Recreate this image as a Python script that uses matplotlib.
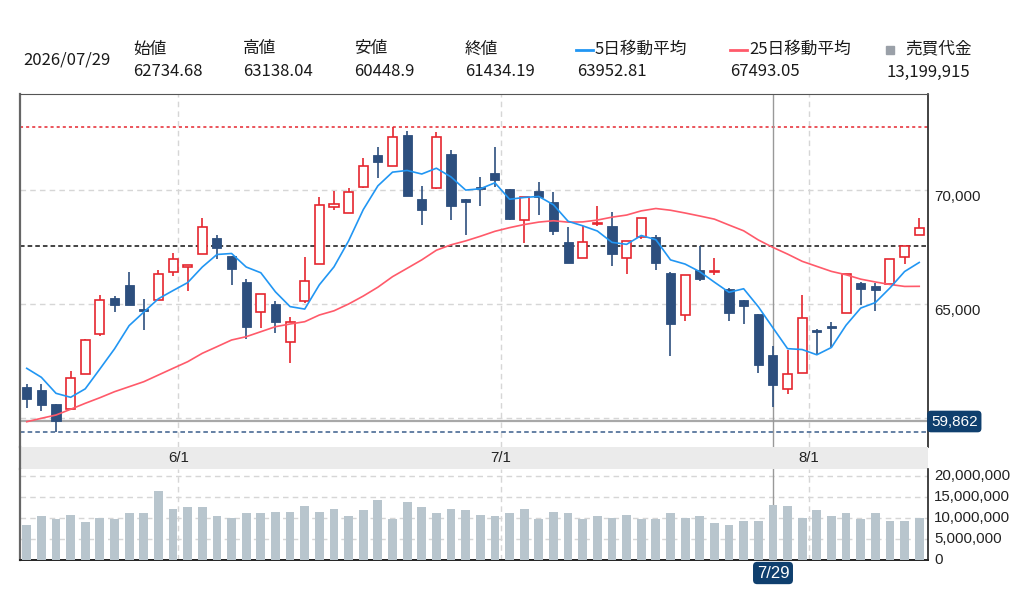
import numpy as np
import pandas as pd
import matplotlib
matplotlib.use("Agg")
import matplotlib.pyplot as plt
from matplotlib.lines import Line2D
from matplotlib.patches import Rectangle

# business days shown (7/20 is a holiday)
dates = pd.bdate_range("2026-05-18", "2026-08-12")
dates = dates[dates != pd.Timestamp("2026-07-20")]

opens = [61331, 61212, 60582, 60375, 61903, 63692, 65251, 65837, 64793, 65163,
         66396, 66643, 67216, 67894, 67114, 65969, 64648, 65013, 63313, 65132,
         66775, 69260, 69022, 70167, 71563, 71066, 72444, 69625, 70097, 71608,
         69612, 70141, 70784, 70066, 68700, 69978, 69506, 67744, 67040, 68511,
         68449, 67040, 67965, 67938, 66352, 64529, 66485, 66410, 65648, 65176,
         64546, 62734.68, 61243, 61947, 63855, 64031, 64590, 65912, 65793, 65894,
         67057, 68040]
highs = [61476, 61476, 60600, 62049, 63471, 65396, 65352, 66423, 65207, 66485,
         67260, 66718, 68788, 68026, 67114, 66088, 65454, 65132, 64414, 67070,
         69700, 69991, 70123, 71431, 71929, 72810, 72634, 70198, 72563, 71784,
         69612, 70608, 71929, 70066, 69727, 70387, 69947, 68405, 68436, 69330,
         69053, 67788, 68775, 68040, 66410, 66278, 67555, 67013, 65692, 65176,
         64546, 63138.04, 62974, 65396, 63899, 64220, 66335, 65982, 65938, 66982,
         67555, 68775]
lows = [60406, 60287, 59348, 60350, 61903, 63604, 64634, 64969, 63855, 65163,
        66247, 65586, 67216, 66969, 65850, 63445, 63930, 63736, 62388, 65057,
        66775, 69141, 69022, 70097, 70537, 71066, 69771, 68480, 70053, 68700,
        68040, 69330, 70167, 68700, 67674, 68920, 68040, 66819, 67040, 68436,
        66687, 66308, 67850, 66498, 62709, 64251, 66000, 66264, 64251, 64119,
        61947, 60448.9, 61035, 61947, 62754, 63119, 64590, 64943, 64692, 65894,
        66762, 68335]
closes = [60802, 60538, 59846, 61727, 63401, 65176, 64969, 64969, 64705, 66335,
          66982, 66718, 68405, 67467, 66555, 64000, 65454, 64194, 64220, 66013,
          69348, 69405, 69920, 71092, 71255, 72370, 69771, 69141, 72370, 69330,
          69480, 70053, 70462, 68744, 69727, 69700, 68229, 66819, 67744, 68581,
          67203, 67788, 68775, 66819, 64132, 66278, 66114, 66467, 64590, 64912,
          62326, 61434.19, 61903, 64397, 63753, 63943, 66335, 65674, 65603, 66982,
          67555, 68335]
ma5 = [62167, 61771, 61066, 60890, 61263, 62138, 63024, 64048, 64644, 65231,
       65592, 65942, 66629, 67181, 67225, 66629, 66376, 65534, 64885, 64776,
       65846, 66636, 67781, 69156, 70204, 70808, 70882, 70726, 70981, 70596,
       70018, 70075, 70339, 69614, 69693, 69737, 69372, 68644, 68444, 68215,
       67715, 67627, 68018, 67833, 66943, 66758, 66424, 65962, 65516, 65672,
       64882, 63952.81, 63033, 62994, 62763, 63086, 64066, 64820, 65062, 65707,
       66430, 66830]
ma25 = [59815, 59965, 60110, 60362, 60626, 60872, 61137, 61357, 61577, 61872,
        62167, 62458, 62828, 63119, 63414, 63560, 63780, 64000, 64119, 64220,
        64515, 64700, 65000, 65350, 65740, 66203, 66572, 66944, 67369, 67607,
        67779, 67982, 68202, 68363, 68499, 68608, 68668, 68605, 68616, 68697,
        68825, 68918, 69102, 69206, 69130, 69008, 68876, 68738, 68478, 68224,
        67822, 67493.05, 67199, 66880, 66657, 66436, 66287, 66095, 65970, 65860,
        65774, 65778]
volume = [8340000, 10470000, 9770000, 10800000, 9050000, 10080000, 9850000, 11110000,
          11110000, 16350000, 12220000, 12540000, 12540000, 10470000, 10080000, 11110000,
          11110000, 11510000, 11510000, 12930000, 11510000, 12220000, 10470000, 11830000,
          14290000, 9770000, 13890000, 12540000, 11110000, 12220000, 11830000, 10800000,
          10470000, 11110000, 12140000, 9770000, 11510000, 11110000, 9770000, 10470000,
          10080000, 10800000, 9770000, 9770000, 11110000, 10080000, 10470000, 8730000,
          8340000, 9360000, 9360000, 13199915, 12850000, 10080000, 11830000, 10470000,
          11110000, 9770000, 11110000, 9360000, 9360000, 10080000]

month_labels = ["6/1", "7/1", "8/1"]
month_pos = [10.36, 32.42, 53.47]
ref_line = 67555
cross_idx = 51
cross_price = 59862

RED = "#e5262f"
NAVY = "#2d4f7e"
BLUE = "#2196f3"
PINK = "#ff5a6a"
VOLC = "#b8c5cd"
GRID = "#d6d6d6"

JP = ["Noto Sans CJK JP", "DejaVu Sans"]
AXF = ["Liberation Sans", "DejaVu Sans"]

W, H = 1024, 604
def fx(px):
    return px / W
def fy(py):
    return 1 - py / H

fig = plt.figure(figsize=(10.24, 6.04), dpi=100)
L, R = 20, 928
ax = fig.add_axes([fx(L), fy(447), fx(R) - fx(L), fy(94) - fy(447)])
band = fig.add_axes([fx(L), fy(469.3), fx(R) - fx(L), fy(447) - fy(469.3)], sharex=ax)
axv = fig.add_axes([fx(L), fy(560), fx(R) - fx(L), fy(469.3) - fy(560)], sharex=ax)

x = np.arange(len(closes))
o = np.array(opens); h = np.array(highs); l = np.array(lows); c = np.array(closes)
up = c >= o
dn = ~up
bw = 0.62

# price pane
ax.vlines(x[dn], l[dn], h[dn], color=NAVY, lw=1.2, zorder=3)
ax.bar(x[dn], np.maximum(o[dn] - c[dn], 40), bottom=c[dn], width=bw,
       facecolor=NAVY, edgecolor=NAVY, lw=0.6, zorder=4)
ax.vlines(x[up], l[up], h[up], color=RED, lw=1.2, zorder=3)
ax.bar(x[up], np.maximum(c[up] - o[up], 40), bottom=o[up], width=bw,
       facecolor="white", edgecolor=RED, lw=1.2, zorder=4)

ax.plot(x, ma25, color=PINK, lw=1.2, zorder=5)
ax.plot(x, ma5, color=BLUE, lw=1.2, zorder=5)

ax.axhline(max(highs), color=RED, lw=1.1, ls=(0, (2, 2)), zorder=2)
ax.axhline(min(lows), color="#3b5e8c", lw=1.1, ls=(0, (3, 2)), zorder=2)
ax.axhline(ref_line, color="#111111", lw=1.1, ls=(0, (3, 2)), zorder=2)
ax.axhline(cross_price, color="#a8a8a8", lw=1.6, zorder=2)
ax.axvline(cross_idx, color="#999999", lw=1, zorder=2)

ax.set_xlim(-0.46, 61.6)
ax.set_ylim(58701, 74250)
ax.set_yticks([60000, 65000, 70000])
ax.set_xticks(month_pos)
ax.grid(True, color=GRID, lw=1, ls=(0, (4, 3)))
ax.set_axisbelow(True)
ax.tick_params(length=0, labelbottom=False, labelleft=False)
for v in [65000, 70000]:
    ax.text(1.0066, v, f"{v:,}", transform=ax.get_yaxis_transform(),
            ha="left", va="top", fontsize=10.8, color="#222222", family=AXF)

# date band
band.set_facecolor("#ebebeb")
band.tick_params(length=0, labelbottom=False, labelleft=False)
band.set_yticks([])
for p, s in zip(month_pos, month_labels):
    band.text(p, 0.5, s, transform=band.get_xaxis_transform(), ha="center",
              va="center", fontsize=10.8, color="#222222", family=AXF)

# volume pane
axv.bar(x, volume, width=0.6, color=VOLC, zorder=3)
axv.axvline(cross_idx, color="#999999", lw=1, zorder=2)
axv.set_ylim(0, 21.6e6)
axv.set_yticks([5e6, 10e6, 15e6, 20e6])
axv.grid(True, color=GRID, lw=1, ls=(0, (4, 3)))
axv.set_axisbelow(True)
axv.tick_params(length=0, labelbottom=False, labelleft=False)
for v in [0, 5000000, 10000000, 15000000, 20000000]:
    axv.text(1.0066, v, f"{v:,}", transform=axv.get_yaxis_transform(),
             ha="left", va="center", fontsize=10.8, color="#222222", family=AXF)

for a in (ax, band, axv):
    for side in ("top", "bottom"):
        a.spines[side].set_visible(False)
    a.spines["left"].set_color("#666666")
    a.spines["left"].set_linewidth(1.6)
    a.spines["right"].set_color("#222222")
    a.spines["right"].set_linewidth(1.2)
ax.spines["top"].set_visible(True)
ax.spines["top"].set_color("#555555")
axv.spines["bottom"].set_visible(True)
axv.spines["bottom"].set_color("#222222")
axv.spines["bottom"].set_linewidth(1.4)
band.spines["right"].set_visible(False)

# crosshair labels
fig.text(fx(931), fy(421.5), f"{cross_price:,}", ha="left", va="center",
         fontsize=11, color="white", family=AXF,
         bbox=dict(boxstyle="round,pad=0.25,rounding_size=0.25", fc="#0f3f6e", ec="none"))
fig.text(fx(773), fy(573), dates[cross_idx].strftime("%-m/%-d"), ha="center", va="center",
         fontsize=12, color="white", family=AXF,
         bbox=dict(boxstyle="round,pad=0.22,rounding_size=0.25", fc="#0f3f6e", ec="none"))

# header
i = cross_idx
fig.text(fx(23), fy(60), dates[i].strftime("%Y/%m/%d"), ha="left", va="center",
         fontsize=12, color="#1a1a1a", family=JP)
head_labels = ["始値", "高値", "安値", "終値", "5日移動平均", "25日移動平均", "売買代金"]
head_values = [str(opens[i]), str(highs[i]), str(lows[i]), str(closes[i]),
               str(ma5[i]), str(ma25[i]), f"{volume[i]:,}"]
label_x = [133, 243, 354, 465, 595, 749, 905]
value_x = [133, 243, 354, 465, 577, 730, 886]
for lx, vx, s, v in zip(label_x, value_x, head_labels, head_values):
    fig.text(fx(lx), fy(49), s, ha="left", va="center", fontsize=12,
             color="#1a1a1a", family=JP)
    fig.text(fx(vx), fy(72), v, ha="left", va="center", fontsize=12,
             color="#1a1a1a", family=JP)
fig.add_artist(Line2D([fx(576), fx(593)], [fy(50), fy(50)], color=BLUE, lw=2,
                      transform=fig.transFigure))
fig.add_artist(Line2D([fx(730), fx(747)], [fy(50), fy(50)], color=PINK, lw=2,
                      transform=fig.transFigure))
fig.add_artist(Rectangle((fx(886), fy(54)), fx(8), 8 / H, color="#9aa0a8",
                         transform=fig.transFigure))

fig.savefig("out.png", dpi=100)
